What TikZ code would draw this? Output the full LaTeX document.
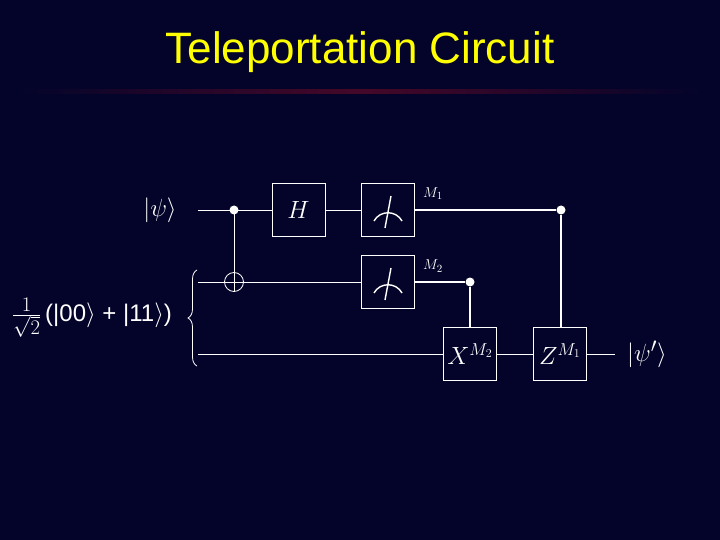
\documentclass[tikz,border=0pt]{standalone}
\usepackage{fontspec}
\setsansfont{Liberation Sans}
\usetikzlibrary{decorations.pathreplacing}
\definecolor{bg}{RGB}{4,4,42}
\definecolor{ttl}{RGB}{255,255,0}
\definecolor{rl}{RGB}{70,8,40}
\tikzset{
 wire/.style={draw=white,line width=0.8pt},
 cwire/.style={draw=white,line width=2.6pt},
 gate/.style={draw=white,line width=0.8pt,minimum width=53pt,minimum height=53pt,inner sep=0pt,text=white,font=\fontsize{24}{28}\selectfont},
 dot/.style={circle,fill=white,inner sep=0pt,minimum size=9pt},
 lbl/.style={text=white,font=\fontsize{28}{32}\selectfont}
}
\begin{document}
\begin{tikzpicture}[x=1pt,y=-1pt]
\fill[bg] (0,0) rectangle (720,540);
\useasboundingbox (0,0) rectangle (720,540);
\node[text=ttl,font=\sffamily\fontsize{44}{48}\selectfont] (title) at (360,52) {Teleportation Circuit};
\shade[left color=bg,right color=rl] (20,90) rectangle (360,94);
\shade[left color=rl,right color=bg] (360,90) rectangle (700,94);
% gates
\node[gate] (H) at (298.5,210) {$H$};
\node[gate] (m1) at (387.5,210) {};
\node[gate] (m2) at (387.5,282) {};
\node[gate] (X) at (470,354) {$X^{M_2}$};
\node[gate] (Z) at (560,354) {$Z^{M_1}$};
\foreach \yy in {210,282}{
 \draw[white,line width=1.4pt] (374,\yy+11) .. controls (380,\yy) and (396,\yy) .. (402,\yy+11);
 \draw[white,line width=1.4pt] (385,\yy+18) -- (391,\yy-14);
}
% labels
\node[lbl] (psi) at (160,210) {$|\psi\rangle$};
\node[text=white,font=\sffamily\fontsize{24}{28}\selectfont,inner sep=0pt] (bell) at (92,318) {{\fontsize{30}{32}\selectfont$\frac{1}{\sqrt2}$}\,(|00$\rangle$ + |11$\rangle$)};
\node[lbl] (out) at (647,354) {$|\psi'\rangle$};
\node[text=white,font=\fontsize{15}{18}\selectfont] (M1) at (433,194) {$M_1$};
\node[text=white,font=\fontsize{15}{18}\selectfont] (M2) at (433,266) {$M_2$};
% coordinates
\coordinate (a1) at (198,210);
\coordinate (a2) at (198,282);
\coordinate (a3) at (198,354);
\coordinate (c1) at (234,210);
\node[circle,draw=white,line width=0.8pt,minimum size=19pt,inner sep=0pt] (tg) at (234,282) {};
\node[dot] (d1) at (561,210) {};
\node[dot] (d2) at (470,282) {};
\coordinate (e3) at (615,354);
% wires
\draw[wire] (a1) -- (H.west);
\draw[wire] (H.east) -- (m1.west);
\draw[wire] (a2) -- (m2.west);
\draw[wire] (tg.west) -- (tg.east);
\draw[wire] (c1) -- (tg.south);
\node[dot] at (c1) {};
\draw[wire] (a3) -- (X.west);
\draw[wire] (X.east) -- (Z.west);
\draw[wire] (Z.east) -- (e3);
\draw[cwire] (m1.east) -- (d1);
\draw[cwire] (m2.east) -- (d2);
\draw[cwire] (d2) -- (X.north);
\draw[draw=white!80,line width=1.6pt] (d1) -- (d1|-Z.north);
\draw[white,line width=0.8pt,decorate,decoration={brace,amplitude=9pt}] (197,366) -- (197,270);
\end{tikzpicture}
\end{document}
